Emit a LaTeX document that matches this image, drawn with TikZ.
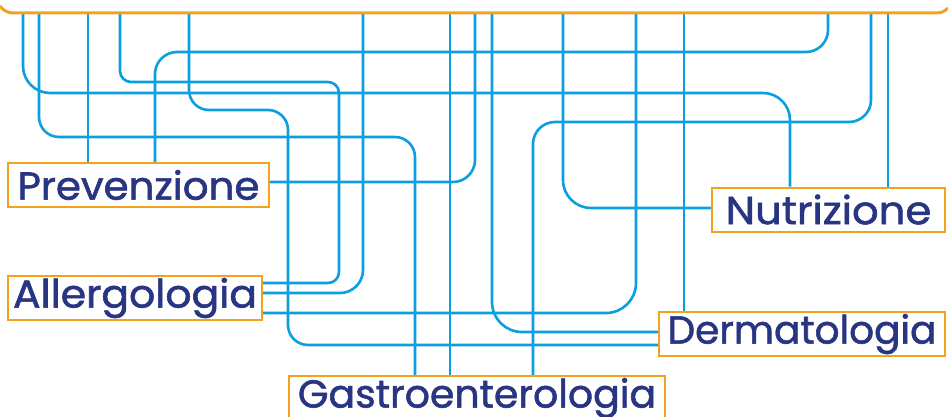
\documentclass[tikz,border=0pt]{standalone}
\usepackage{fontspec}
\usepackage{graphicx}
\usetikzlibrary{backgrounds}
\setmainfont{Poppins}
\newfontfamily\labelfont{Poppins}[FakeBold=1.4]
\definecolor{lineblue}{HTML}{0A9FE0}
\definecolor{boxorange}{HTML}{F4A11B}
\definecolor{navy}{HTML}{283583}
\newcommand{\wscale}[2]{\scalebox{#1}[1]{#2}}
\begin{document}
\begin{tikzpicture}[x=1pt,y=-1pt,
  conn/.style={draw=lineblue,line width=2.6pt,rounded corners=22pt},
  label/.style={draw=boxorange,line width=2pt,fill=white,text=navy,inner sep=0pt,
    font=\labelfont\fontsize{39}{44}\selectfont,minimum height=44pt,anchor=center}]
\useasboundingbox (0,0) rectangle (948,417);
\clip (0,0) rectangle (948,417);
% nodes
\node[label,minimum width=261pt] (prev) at (138.5,185) {\wscale{1.035}{Prevenzione}};
\node[label,minimum width=254pt] (all) at (135,298) {\wscale{1.05}{Allergologia}};
\node[label,minimum width=376pt] (gas) at (477,398) {\wscale{1.01}{Gastroenterologia}};
\node[label,minimum width=233pt] (nut) at (828.5,209.5) {\wscale{1.07}{Nutrizione}};
\node[label,minimum width=286pt] (derm) at (802,334) {Dermatologia};
% top bar coordinates
\foreach \xx/\nm in {23/a,39/b,88/c,120/d,189/e,363/f,450/g,475/h,492/i,563/j,636/k,684/l,828/m,871/n,888/o}
  \coordinate (t\nm) at (\xx,13);
% connectors
\begin{scope}[on background layer]
\draw[conn,rounded corners=27pt] (ta) |- (790,93) -- ([xshift=-38.5pt]nut.north);
\draw[conn,rounded corners=20pt] (tb) |- (415,137) -- ([xshift=-62pt]gas.north);
\draw[conn] (tc) -- ([xshift=-50.5pt]prev.north);
\draw[conn,rounded corners=11pt] (td) |- (339,82) |- ([yshift=15pt]all.east);
\draw[conn,rounded corners=20pt] (te) |- (288,110) |- ([yshift=-11pt]derm.west);
\draw[conn,rounded corners=23pt] (tf) |- ([yshift=5pt]all.east);
\draw[conn] (tg) -- ([xshift=-27pt]gas.north);
\draw[conn,rounded corners=22pt] (th) |- ([yshift=3pt]prev.east);
\draw[conn,rounded corners=30pt] (ti) |- ([yshift=2pt]derm.west);
\draw[conn,rounded corners=28pt] (tj) |- ([yshift=1.5pt]nut.west);
\draw[conn,rounded corners=30pt] (tk) |- ([yshift=-15pt]all.east);
\draw[conn] (tl) -- ([xshift=-118pt]derm.north);
\draw[conn,rounded corners=22pt] (tm) |- (155,52) -- ([xshift=16.5pt]prev.north);
\draw[conn,rounded corners=22pt] (tn) |- (533,122) -- ([xshift=56pt]gas.north);
\draw[conn] (to) -- ([xshift=59.5pt]nut.north);
\end{scope}
% top bar
\draw[boxorange,line width=3pt] (0,6) .. controls (5,12) and (8,13) .. (16,13) -- (934,13) .. controls (941,13) and (944,12) .. (948,8);
\end{tikzpicture}
\end{document}
